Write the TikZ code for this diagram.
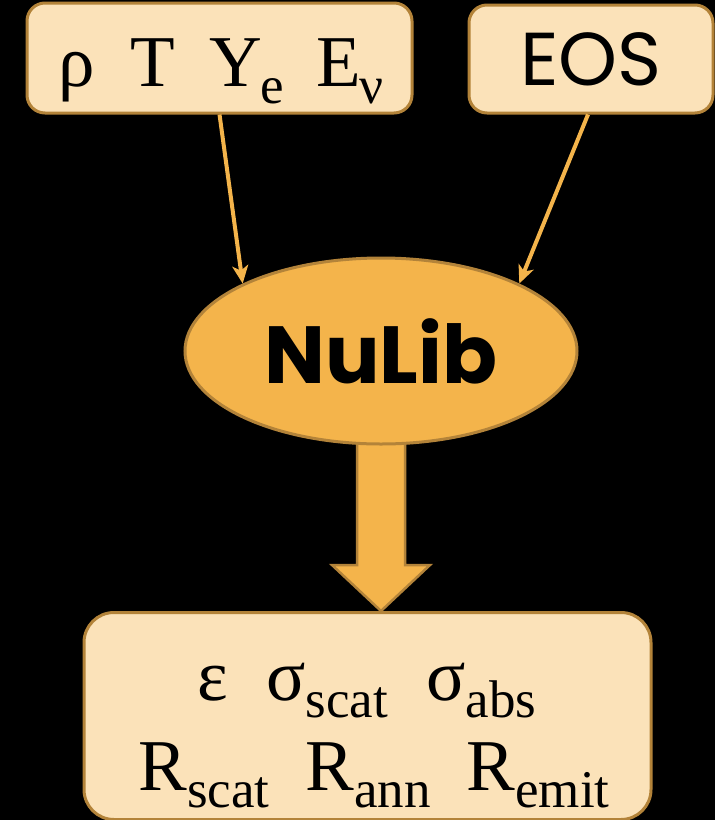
\documentclass[tikz,border=0pt]{standalone}
\usepackage{fontspec}
\setmainfont{Liberation Serif}
\newfontfamily\popfont{Poppins}
\usetikzlibrary{shapes.geometric,arrows.meta,calc}
\definecolor{boxfill}{HTML}{FBE2B9}
\definecolor{boxline}{HTML}{B38339}
\definecolor{orng}{HTML}{F4B44B}
\pgfdeclarelayer{back}
\pgfdeclarelayer{bg}
\pgfsetlayers{back,bg,main}
\newcommand\subtxt[1]{\raisebox{-17pt}{\fontsize{53}{53}\selectfont #1}}
\begin{document}
\begin{tikzpicture}[x=1pt,y=-1pt,
  box/.style={draw=boxline,fill=boxfill,line width=3pt,inner sep=0pt},
  serif/.style={font=\fontsize{73}{73}\selectfont,inner sep=0pt,anchor=base},
  thinarrow/.style={draw=orng,line width=4pt,-{Stealth[length=18pt,width=16pt,inset=5pt]}},
  bigarrow/.style={draw=boxline,fill=orng,line width=2.5pt,line join=miter}]
\begin{pgfonlayer}{back}
\fill[black] (0,0) rectangle (715,820);
\end{pgfonlayer}
\useasboundingbox (0,0) rectangle (715,820);

\node[box,rounded corners=18pt,minimum width=385pt,minimum height=110pt] (in1) at (219.5,58) {};
\node[serif] (t1) at (221,86) {ρ\hspace{36pt}T\hspace{34pt}Y\kern-1pt\subtxt{e}\hspace{32pt}E\kern-1pt\subtxt{ν}};

\node[box,rounded corners=18pt,minimum width=244pt,minimum height=108pt] (in2) at (591,59)
  {\popfont\fontsize{75}{75}\selectfont EOS};

\node[ellipse,draw=boxline,fill=orng,line width=3pt,minimum width=392pt,minimum height=186pt,inner sep=0pt] (nl) at (381,351)
  {\popfont\bfseries\fontsize{81}{81}\selectfont NuLib};

\node[box,rounded corners=30pt,minimum width=567pt,minimum height=207pt] (out) at (367.5,716) {};
\node[serif] (r1) at (367,700) {ε\hspace{38pt}σ\subtxt{scat}\hspace{38pt}σ\subtxt{abs}};
\node[serif] (r2) at (374,790) {R\subtxt{scat}\hspace{36pt}R\subtxt{ann}\hspace{36pt}R\subtxt{emit}};

\draw[thinarrow] (in1.south) -- (nl.154);
\draw[thinarrow] ($(in2.south)+(-3,0)$) -- (nl.26);

\begin{pgfonlayer}{bg}
\path let \p1=(nl.south), \p2=(out.north) in
  [bigarrow] (\x1-24pt,\y1+30pt) -- (\x1+24pt,\y1+30pt) -- (\x1+24pt,\y2+46pt)
  -- (\x1+49pt,\y2+46pt) -- (\x1,\y2) -- (\x1-49pt,\y2+46pt) -- (\x1-24pt,\y2+46pt) -- cycle;
\end{pgfonlayer}
\end{tikzpicture}
\end{document}
